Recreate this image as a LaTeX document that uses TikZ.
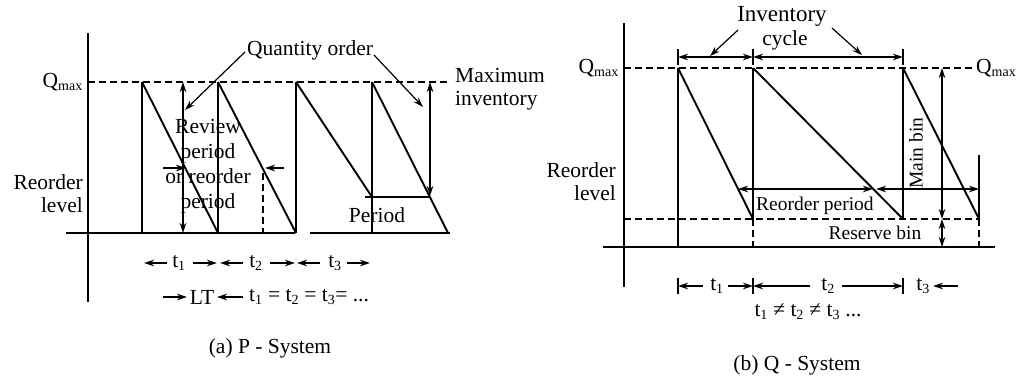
\documentclass[tikz,border=0pt]{standalone}
\usepackage{fontspec}
\setmainfont{Liberation Serif}
\usetikzlibrary{arrows.meta}
\begin{document}
\begin{tikzpicture}[x=1pt,y=-1pt,
  lbl/.style={inner sep=0pt,font=\fontsize{21.5}{25}\selectfont},
  slbl/.style={inner sep=0pt,font=\fontsize{19.5}{23}\selectfont},
  axis/.style={line width=2.6pt},
  saw/.style={line width=1.9pt},
  sawv/.style={line width=2.3pt},
  thinl/.style={line width=1.2pt},
  dashl/.style={line width=1.5pt,dash pattern=on 7pt off 4pt},
  arr/.style={line width=1.2pt,-{Stealth[length=10pt,width=6.5pt]}},
  darr/.style={line width=1.2pt,{Stealth[length=10pt,width=6.5pt]}-{Stealth[length=10pt,width=6.5pt]}},
  tickl/.style={line width=1.2pt}]
\useasboundingbox (0,0) rectangle (1019,378);
\newcommand{\sub}[1]{\textsubscript{\fontsize{14}{14}\selectfont #1}}
% ================= (a) P-System =================
\coordinate (ay1) at (88,33); \coordinate (ay2) at (88,302);
\coordinate (ax1) at (66,233); \coordinate (ax2) at (295,233);
\coordinate (ax3) at (310,233); \coordinate (ax4) at (450,233);
\draw[axis] (ay1) -- (ay2);
\draw[axis] (ax1) -- (ax2);
\draw[axis] (ax3) -- (ax4);
\coordinate (aq1) at (88,82); \coordinate (aq2) at (447,82);
\draw[dashl] (aq1) -- (aq2);
% sawtooth
\coordinate (p1b) at (142,233); \coordinate (p1t) at (142,82);
\coordinate (p2b) at (218,233); \coordinate (p2t) at (218,82);
\coordinate (p3b) at (296,233); \coordinate (p3t) at (296,82);
\coordinate (d3e) at (372,197);
\coordinate (p4b) at (372,233); \coordinate (p4t) at (372,82);
\coordinate (d4e) at (448,233);
\draw[sawv] (p1b) -- (p1t); \draw[saw] (p1t) -- (p2b);
\draw[sawv] (p2b) -- (p2t); \draw[saw] (p2t) -- (p3b);
\draw[sawv] (p3b) -- (p3t); \draw[saw] (p3t) -- (d3e);
\draw[sawv] (p4b) -- (p4t); \draw[saw] (p4t) -- (d4e);
% period line
\coordinate (pl1) at (365,197); \coordinate (pl2) at (430,197);
\draw[thinl] (pl1) -- (pl2);
% reorder point dashed line and arrows
\coordinate (rd1) at (263,173); \coordinate (rd2) at (263,233);
\draw[dashl] (rd1) -- (rd2);
\coordinate (ra1) at (163,168); \coordinate (ra2) at (186,168);
\coordinate (ra3) at (284,168); \coordinate (ra4) at (265,168);
\draw[arr] (ra1) -- (ra2);
\draw[arr] (ra3) -- (ra4);
% review period double arrow
\coordinate (rv1) at (183,82); \coordinate (rv2) at (183,233);
\draw[darr] (rv1) -- (rv2);
% max inventory double arrow
\coordinate (mi1) at (430,82); \coordinate (mi2) at (430,196);
\draw[darr] (mi1) -- (mi2);
% labels
\node[lbl,anchor=east] (aqmax) at (83,82) {Q\sub{max}};
\node[lbl,anchor=east,align=right,font=\fontsize{21.5}{23}\selectfont] (areo) at (83,194) {Reorder\\level};
\node[lbl,align=center] (review) at (208,166) {Review\\period\\or reorder\\period};
\node[lbl] (qord) at (310,50) {Quantity order};
\node[lbl,anchor=west,align=left,font=\fontsize{21.5}{23}\selectfont] (maxinv) at (455,89) {Maximum\\inventory};
\node[lbl] (period) at (377,215) {Period};
\coordinate (qa1) at (245,52); \coordinate (qa2) at (185,110);
\coordinate (qa3) at (374,55); \coordinate (qa4) at (423,107);
\draw[arr] (qa1) -- (qa2);
\draw[arr] (qa3) -- (qa4);
% bottom row 1
\node[lbl] (at1) at (179,263) {t\sub{1}};
\node[lbl] (at2) at (256,263) {t\sub{2}};
\node[lbl] (at3) at (335,263) {t\sub{3}};
\coordinate (b1) at (167,263); \coordinate (b1e) at (144,263);
\coordinate (b2) at (193,263); \coordinate (b2e) at (217,263);
\coordinate (b3) at (243,263); \coordinate (b3e) at (220,263);
\coordinate (b4) at (270,263); \coordinate (b4e) at (295,263);
\coordinate (b5) at (320,263); \coordinate (b5e) at (297,263);
\coordinate (b6) at (347,263); \coordinate (b6e) at (370,263);
\foreach \s in {1,...,6} {\draw[arr] (b\s) -- (b\s e);}
% bottom row 2
\node[lbl] (lt) at (202,297) {LT};
\coordinate (l1) at (163,297); \coordinate (l1e) at (187,297);
\coordinate (l2) at (243,297); \coordinate (l2e) at (217,297);
\draw[arr] (l1) -- (l1e);
\draw[arr] (l2) -- (l2e);
\node[lbl,anchor=west] (aeq) at (249,297) {t\sub{1} = t\sub{2} = t\sub{3}= ...};
\node[lbl] (capa) at (270,348) {(a) P - System};
% ================= (b) Q-System =================
\coordinate (by1) at (624,23); \coordinate (by2) at (624,287);
\coordinate (bx1) at (603,247); \coordinate (bx2) at (995,247);
\draw[axis] (by1) -- (by2);
\draw[axis] (bx1) -- (bx2);
\coordinate (bq1) at (624,68); \coordinate (bq2) at (975,68);
\draw[dashl] (bq1) -- (bq2);
\coordinate (br1) at (624,219); \coordinate (br2) at (980,219);
\draw[dashl] (br1) -- (br2);
\coordinate (s1b) at (678,247); \coordinate (s1t) at (678,68);
\coordinate (s2b) at (753,219); \coordinate (s2t) at (753,68);
\coordinate (s3b) at (903,219); \coordinate (s3t) at (903,68);
\coordinate (s4b) at (979,219); \coordinate (s4t) at (979,155);
\coordinate (s2z) at (753,247); \coordinate (s4z) at (979,247);
\draw[sawv] (s1b) -- (s1t); \draw[saw] (s1t) -- (s2b);
\draw[sawv] (s2b) -- (s2t); \draw[saw] (s2t) -- (s3b);
\draw[sawv] (s3b) -- (s3t); \draw[saw] (s3t) -- (s4b);
\draw[thinl] (s4b) -- (s4t);
\draw[dashl] (s2b) -- (s2z);
\draw[dashl] (s4b) -- (s4z);
% reorder period dims
\coordinate (rp1) at (738,189); \coordinate (rp2) at (873,189);
\coordinate (rp3) at (876,189); \coordinate (rp4) at (979,189);
\draw[darr] (rp1) -- (rp2);
\draw[darr] (rp3) -- (rp4);
% main bin / reserve bin
\coordinate (mb1) at (942,68); \coordinate (mb2) at (942,219);
\coordinate (mb3) at (942,247);
\draw[darr] (mb1) -- (mb2);
\draw[darr] (mb2) -- (mb3);
% inventory cycle
\foreach \x/\n in {678/c1,753/c2,903/c3} {
  \coordinate (\n u) at (\x,49); \coordinate (\n d) at (\x,65);
  \draw[tickl] (\n u) -- (\n d);
  \coordinate (\n) at (\x,57);}
\draw[darr] (c1) -- (c2);
\draw[darr] (c2) -- (c3);
\node[lbl,font=\fontsize{23}{25}\selectfont] (inv) at (782,16) {Inventory};
\node[lbl] (cyc) at (785,40) {cycle};
\coordinate (ia1) at (738,30); \coordinate (ia2) at (710,56);
\coordinate (ia3) at (832,28); \coordinate (ia4) at (862,55);
\draw[arr] (ia1) -- (ia2);
\draw[arr] (ia3) -- (ia4);
% labels
\node[lbl,anchor=east] (bqmax) at (619,68) {Q\sub{max}};
\node[lbl,anchor=west] (bqmax2) at (976,68) {Q\sub{max}};
\node[lbl,anchor=east,align=right,font=\fontsize{21.5}{23}\selectfont] (breo) at (616,182) {Reorder\\level};
\node[slbl,anchor=west] (rpl) at (756,206) {Reorder period};
\node[slbl] (rsb) at (875,233) {Reserve bin};
\node[slbl,rotate=90] (mbl) at (916,153) {Main bin};
% bottom
\foreach \x/\n in {678/e1,753/e2,903/e3} {
  \coordinate (\n u) at (\x,278); \coordinate (\n d) at (\x,294);
  \draw[tickl] (\n u) -- (\n d);}
\node[lbl] (bt1) at (717,286) {t\sub{1}};
\node[lbl] (bt2) at (828,286) {t\sub{2}};
\node[lbl] (bt3) at (923,286) {t\sub{3}};
\coordinate (g1) at (703,286); \coordinate (g1e) at (678,286);
\coordinate (g2) at (728,286); \coordinate (g2e) at (753,286);
\coordinate (g3) at (810,286); \coordinate (g3e) at (753,286);
\coordinate (g4) at (842,286); \coordinate (g4e) at (903,286);
\coordinate (g5) at (958,286); \coordinate (g5e) at (933,286);
\foreach \s in {1,...,5} {\draw[arr] (g\s) -- (g\s e);}
\node[lbl] (bneq) at (808,312) {t\sub{1} ≠ t\sub{2} ≠ t\sub{3} ...};
\node[lbl] (capb) at (797,365) {(b) Q - System};
\end{tikzpicture}
\end{document}
